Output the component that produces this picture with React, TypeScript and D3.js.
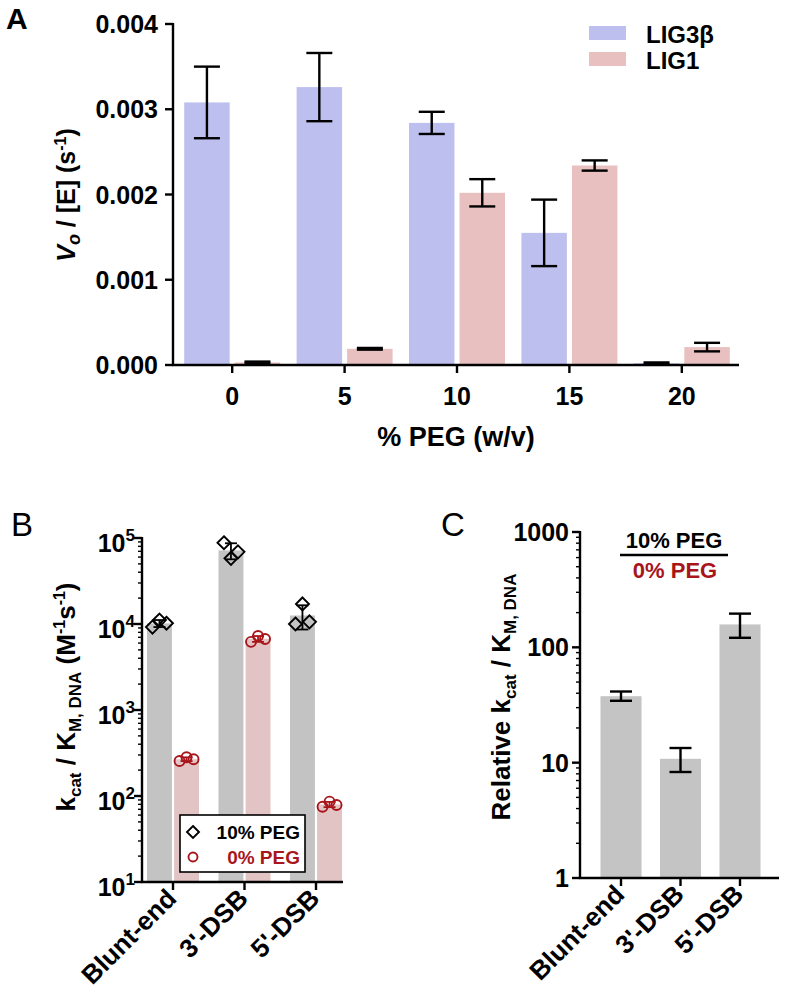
import React from "react";
import * as d3 from "d3";

// ---------- Panel A data ----------
const pegLevels = ["0", "5", "10", "15", "20"];
const seriesA = ["LIG3β", "LIG1"];
const lig3Mean = [0.00308, 0.00326, 0.00284, 0.00155, 0.00002];
const lig3Err = [0.00042, 0.0004, 0.00013, 0.00039, 0.00001];
const lig1Mean = [0.00003, 0.00019, 0.00202, 0.00234, 0.00021];
const lig1Err = [0.00001, 0.00001, 0.00016, 0.00006, 0.00005];
const yTicksA = [0, 0.001, 0.002, 0.003, 0.004];

// ---------- Panel B data ----------
const substrates = ["Blunt-end", "3'-DSB", "5'-DSB"];
const seriesB = ["10% PEG", "0% PEG"];
const peg10Points = [
  [9200, 11100, 10200],
  [88000, 58000, 69000],
  [10000, 17100, 10600],
];
const peg0Points = [
  [255, 282, 267],
  [6200, 7250, 6700],
  [75, 86, 78.5],
];
const yTicksBExp = [1, 2, 3, 4, 5];

// ---------- Panel C data ----------
const relMean = [37.7, 10.8, 158];
const relLow = [34.4, 8.3, 121];
const relHigh = [41.4, 13.4, 196];
const yTicksC = ["1", "10", "100", "1000"];

const FONT = "'Liberation Sans', Arial, Helvetica, sans-serif";
const DARKRED = "#a8161c";

function sd(arr: number[]) {
  const m = d3.mean(arr) as number;
  return Math.sqrt(d3.sum(arr, (v) => (v - m) * (v - m)) / (arr.length - 1));
}

export default function App() {
  // ===== Panel A =====
  const xA = d3.scaleBand<string>().domain(pegLevels).range([176, 738]);
  const xSubA = d3.scaleBand<string>().domain(seriesA).range([-48, 48]).paddingInner(0.1);
  const yA = d3.scaleLinear().domain([0, 0.004]).range([365, 24]);
  const colorA = d3.scaleOrdinal<string, string>().domain(seriesA).range(["#bdc0ee", "#e8c0c0"]);
  const meansA = [lig3Mean, lig1Mean];
  const errsA = [lig3Err, lig1Err];
  const axA = 173;

  // ===== Panel B =====
  const xB = d3.scaleBand<string>().domain(substrates).range([137.25, 351.75]);
  const xSubB = d3.scaleBand<string>().domain(seriesB).range([-26, 26]).paddingInner(0.08);
  const yB = d3.scaleLog().domain([10, 100000]).range([882, 538]);
  const colorB = d3.scaleOrdinal<string, string>().domain(seriesB).range(["#c3c3c3", "#e3c4c4"]);
  const pointsB = [peg10Points, peg0Points];
  const axB = 142;
  const jitter = [-7, 0, 7];

  // ===== Panel C =====
  const xC = d3.scaleBand<string>().domain(substrates).range([591.25, 769.75]).paddingInner(0.31).paddingOuter(0.155);
  const yC = d3.scaleLog().domain([1, 1000]).range([878, 532]);
  const axC = 580;

  const sw = 2.4;

  const minorTicks = (scale: d3.ScaleLogarithmic<number, number>) =>
    scale.ticks().filter((t) => Math.abs(Math.log10(t) - Math.round(Math.log10(t))) > 1e-6);

  return (
    <svg
      width={785}
      height={995}
      style={{ position: "absolute", left: 0, top: 0, background: "#fff" }}
      fontFamily={FONT}
      fontWeight="bold"
    >
      <rect x={0} y={0} width={785} height={995} fill="#fff" />

      {/* ================= PANEL A ================= */}
      <text x={6} y={29} fontSize={30} fontWeight="bold">A</text>
      {pegLevels.map((lvl, i) => {
        const cx = (xA(lvl) as number) + xA.bandwidth() / 2;
        return (
          <g key={lvl}>
            {seriesA.map((s, j) => {
              const bx = cx + (xSubA(s) as number);
              const v = meansA[j][i];
              const e = errsA[j][i];
              const ex = bx + xSubA.bandwidth() / 2;
              return (
                <g key={s}>
                  <rect x={bx} y={yA(v)} width={xSubA.bandwidth()} height={yA(0) - yA(v)} fill={colorA(s)} />
                  <line x1={ex} x2={ex} y1={yA(v + e)} y2={yA(Math.max(0, v - e))} stroke="#000" strokeWidth={sw} />
                  <line x1={ex - 13} x2={ex + 13} y1={yA(v + e)} y2={yA(v + e)} stroke="#000" strokeWidth={sw} />
                  <line x1={ex - 13} x2={ex + 13} y1={yA(Math.max(0, v - e))} y2={yA(Math.max(0, v - e))} stroke="#000" strokeWidth={sw} />
                </g>
              );
            })}
            <line x1={cx} x2={cx} y1={365} y2={373} stroke="#000" strokeWidth={sw} />
            <text x={cx} y={405} fontSize={25} textAnchor="middle">{lvl}</text>
          </g>
        );
      })}
      <line x1={axA} x2={axA} y1={yA(0.004) - 1} y2={yA(0) + 1} stroke="#000" strokeWidth={sw} />
      <line x1={axA - 1} x2={739} y1={yA(0)} y2={yA(0)} stroke="#000" strokeWidth={sw} />
      {yTicksA.map((t) => (
        <g key={t}>
          <line x1={axA - 8} x2={axA} y1={yA(t)} y2={yA(t)} stroke="#000" strokeWidth={sw} />
          <text x={158} y={yA(t) + 9} fontSize={25} textAnchor="end">{d3.format(".3f")(t)}</text>
        </g>
      ))}
      <text x={456} y={446} fontSize={27} textAnchor="middle">% PEG (w/v)</text>
      <text transform="translate(75,195) rotate(-90)" fontSize={25} textAnchor="middle">
        <tspan fontStyle="italic">V</tspan>
        <tspan fontSize={18} dy={5} fontStyle="italic">o</tspan>
        <tspan dy={-5}> / [E] (s</tspan>
        <tspan fontSize={16} dy={-9}>-1</tspan>
        <tspan dy={9}>)</tspan>
      </text>
      {/* legend A */}
      {seriesA.map((s, j) => (
        <g key={s}>
          <rect x={589} y={26 + j * 26} width={37} height={14} fill={colorA(s)} />
          <text x={646} y={43 + j * 26} fontSize={24}>{s}</text>
        </g>
      ))}

      {/* ================= PANEL B ================= */}
      <text x={11} y={536} fontSize={33} fontWeight="normal">B</text>
      {substrates.map((sub, i) => {
        const cx = (xB(sub) as number) + xB.bandwidth() / 2;
        return (
          <g key={sub}>
            {seriesB.map((s, j) => {
              const bx = cx + (xSubB(s) as number);
              const pts = pointsB[j][i];
              const m = d3.mean(pts) as number;
              return (
                <rect key={s} x={bx} y={yB(m)} width={xSubB.bandwidth()} height={yB(10) - yB(m)} fill={colorB(s)} />
              );
            })}
            <line x1={cx} x2={cx} y1={882} y2={890} stroke="#000" strokeWidth={sw} />
            <text transform={`translate(${cx + 5},${900}) rotate(-45)`} fontSize={26} textAnchor="end">{sub}</text>
          </g>
        );
      })}
      {/* points and error bars */}
      {substrates.map((sub, i) => {
        const cx = (xB(sub) as number) + xB.bandwidth() / 2;
        return (
          <g key={"p" + sub}>
            {seriesB.map((s, j) => {
              const ex = cx + (xSubB(s) as number) + xSubB.bandwidth() / 2;
              const pts = pointsB[j][i];
              const m = d3.mean(pts) as number;
              const e = sd(pts);
              const col = j === 0 ? "#000" : DARKRED;
              return (
                <g key={s}>
                  <line x1={ex} x2={ex} y1={yB(m + e)} y2={yB(Math.max(m - e, 10.1))} stroke={col} strokeWidth={1.8} />
                  <line x1={ex - 6} x2={ex + 6} y1={yB(m + e)} y2={yB(m + e)} stroke={col} strokeWidth={1.8} />
                  <line x1={ex - 6} x2={ex + 6} y1={yB(m - e)} y2={yB(m - e)} stroke={col} strokeWidth={1.8} />
                  {pts.map((p, k) => {
                    const px = ex + jitter[k];
                    const py = yB(p);
                    return j === 0 ? (
                      <path key={k} d={`M${px},${py - 6.5}L${px + 6.5},${py}L${px},${py + 6.5}L${px - 6.5},${py}Z`} fill="none" stroke="#000" strokeWidth={1.9} />
                    ) : (
                      <circle key={k} cx={px} cy={py} r={5} fill="none" stroke={DARKRED} strokeWidth={1.9} />
                    );
                  })}
                </g>
              );
            })}
          </g>
        );
      })}
      <line x1={axB} x2={axB} y1={yB(100000) - 1} y2={yB(10) + 1} stroke="#000" strokeWidth={sw} />
      <line x1={axB - 1} x2={343} y1={yB(10)} y2={yB(10)} stroke="#000" strokeWidth={sw} />
      {minorTicks(yB).map((t) => (
        <line key={t} x1={axB - 4} x2={axB} y1={yB(t)} y2={yB(t)} stroke="#000" strokeWidth={1.4} />
      ))}
      {yTicksBExp.map((k) => {
        const y = yB(Math.pow(10, k));
        return (
          <g key={k}>
            <line x1={axB - 8} x2={axB} y1={y} y2={y} stroke="#000" strokeWidth={sw} />
            <text x={135} y={y + 14} fontSize={25} textAnchor="end">
              <tspan>10</tspan>
              <tspan fontSize={17} dy={-11}>{k}</tspan>
            </text>
          </g>
        );
      })}
      <text transform="translate(75,697) rotate(-90)" fontSize={26} textAnchor="middle">
        <tspan>k</tspan>
        <tspan fontSize={17} dy={6}>cat</tspan>
        <tspan dy={-6}> / K</tspan>
        <tspan fontSize={17} dy={6}>M, DNA</tspan>
        <tspan dy={-6}> (M</tspan>
        <tspan fontSize={16} dy={-10}>-1</tspan>
        <tspan dy={10}>s</tspan>
        <tspan fontSize={16} dy={-10}>-1</tspan>
        <tspan dy={10}>)</tspan>
      </text>
      {/* legend B */}
      <rect x={180} y={815} width={125} height={57} fill="#fff" stroke="#000" strokeWidth={1.6} />
      <path d="M193,826 L199,832 L193,838 L187,832 Z" fill="none" stroke="#000" strokeWidth={1.9} />
      <text x={300} y={839} fontSize={19} textAnchor="end">10% PEG</text>
      <circle cx={193} cy={857} r={4.5} fill="none" stroke={DARKRED} strokeWidth={1.9} />
      <text x={300} y={864} fontSize={19} textAnchor="end" fill={DARKRED}>0% PEG</text>

      {/* ================= PANEL C ================= */}
      <text x={441} y={536} fontSize={33} fontWeight="normal">C</text>
      {substrates.map((sub, i) => {
        const bx = xC(sub) as number;
        const cx = bx + xC.bandwidth() / 2;
        return (
          <g key={sub}>
            <rect x={bx} y={yC(relMean[i])} width={xC.bandwidth()} height={yC(1) - yC(relMean[i])} fill="#c4c4c4" />
            <line x1={cx} x2={cx} y1={yC(relHigh[i])} y2={yC(relLow[i])} stroke="#000" strokeWidth={sw} />
            <line x1={cx - 11} x2={cx + 11} y1={yC(relHigh[i])} y2={yC(relHigh[i])} stroke="#000" strokeWidth={sw} />
            <line x1={cx - 11} x2={cx + 11} y1={yC(relLow[i])} y2={yC(relLow[i])} stroke="#000" strokeWidth={sw} />
            <line x1={cx} x2={cx} y1={878} y2={886} stroke="#000" strokeWidth={sw} />
            <text transform={`translate(${cx + 5},${896}) rotate(-45)`} fontSize={26} textAnchor="end">{sub}</text>
          </g>
        );
      })}
      <line x1={axC} x2={axC} y1={yC(1000) - 1} y2={yC(1) + 1} stroke="#000" strokeWidth={sw} />
      <line x1={axC - 1} x2={779} y1={yC(1)} y2={yC(1)} stroke="#000" strokeWidth={sw} />
      {minorTicks(yC).map((t) => (
        <line key={t} x1={axC - 4} x2={axC} y1={yC(t)} y2={yC(t)} stroke="#000" strokeWidth={1.4} />
      ))}
      {yTicksC.map((t) => (
        <g key={t}>
          <line x1={axC - 8} x2={axC} y1={yC(+t)} y2={yC(+t)} stroke="#000" strokeWidth={sw} />
          <text x={569} y={yC(+t) + 9} fontSize={25} textAnchor="end">{t}</text>
        </g>
      ))}
      <text transform="translate(510,697) rotate(-90)" fontSize={26} textAnchor="middle">
        <tspan>Relative k</tspan>
        <tspan fontSize={17} dy={6}>cat</tspan>
        <tspan dy={-6}> / K</tspan>
        <tspan fontSize={17} dy={6}>M, DNA</tspan>
      </text>
      <text x={674} y={548} fontSize={22} textAnchor="middle">10% PEG</text>
      <line x1={620} x2={728} y1={555} y2={555} stroke="#000" strokeWidth={2.6} />
      <text x={675} y={578} fontSize={22} textAnchor="middle" fill={DARKRED}>0% PEG</text>
    </svg>
  );
}
